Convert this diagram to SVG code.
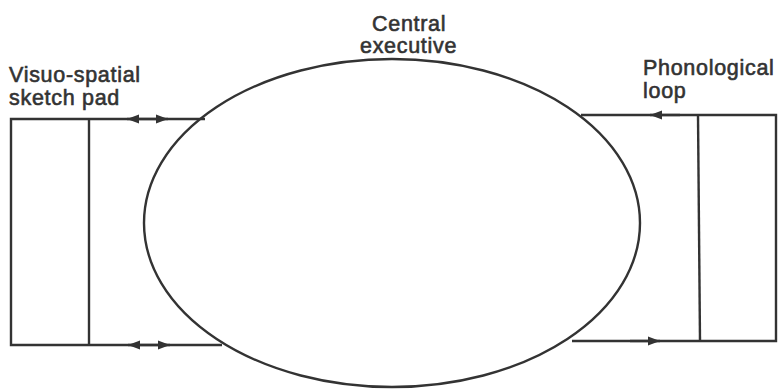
<svg xmlns="http://www.w3.org/2000/svg" width="778" height="390" viewBox="0 0 778 390">
<style>
.ln{stroke:#333;stroke-width:2.4;fill:none}
.lbl{font-family:"Liberation Sans",Arial,sans-serif;font-size:21.5px;fill:#333;letter-spacing:0.7px;stroke:#333;stroke-width:0.6}
</style>
<defs>
<marker id="ah" markerWidth="14" markerHeight="10" refX="12" refY="5" orient="auto" markerUnits="userSpaceOnUse">
<path d="M0,0.5 L12,5 L0,9.5 Z" fill="#333"/>
</marker>
</defs>
<rect width="778" height="390" fill="#fff"/>
<g id="connectors">
<path class="ln" d="M205,119 L11,119 L11,345 L222,345"/>
<path class="ln" d="M89,119 L89,345"/>
<path class="ln" d="M148,119 L127,119" marker-end="url(#ah)"/>
<path class="ln" d="M148,119 L168,119" marker-end="url(#ah)"/>
<path class="ln" d="M149,345 L128,345" marker-end="url(#ah)"/>
<path class="ln" d="M149,345 L170,345" marker-end="url(#ah)"/>
<path class="ln" d="M581,115 L776,115 L776,341 L572,341"/>
<path class="ln" d="M698,115 L700,341"/>
<path class="ln" d="M680,115 L650,115" marker-end="url(#ah)"/>
<path class="ln" d="M630,341 L660,341" marker-end="url(#ah)"/>
</g>
<g id="central-executive">
<ellipse class="ln" cx="392" cy="223" rx="248" ry="164" fill="#fff"/>
<text class="lbl" x="372" y="31">Central</text>
<text class="lbl" x="360" y="53">executive</text>
</g>
<g id="visuo-spatial">
<text class="lbl" x="9" y="82">Visuo-spatial</text>
<text class="lbl" x="9" y="105">sketch pad</text>
</g>
<g id="phonological-loop">
<text class="lbl" x="643" y="75">Phonological</text>
<text class="lbl" x="643" y="98">loop</text>
</g>
</svg>
